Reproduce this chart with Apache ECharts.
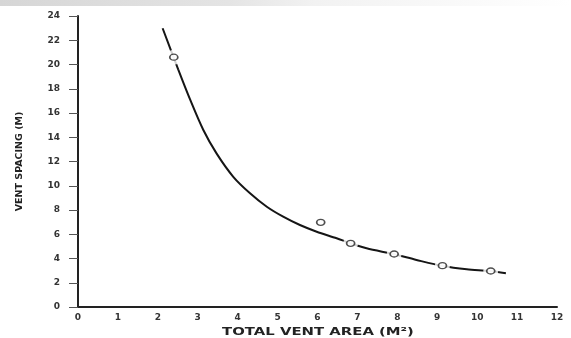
<!DOCTYPE html>
<html>
<head>
<meta charset="utf-8">
<script src="https://cdn.jsdelivr.net/npm/echarts@6/dist/echarts.min.js"></script>
<style>html,body{margin:0;padding:0;background:#fff}#c{width:571px;height:338px}</style>
</head>
<body>
<div id="c"></div>
<script>
// Smooth fitted curve
const curveX = [2.12, 2.51, 2.81, 3.14, 3.47, 3.89, 4.31, 4.73, 5.14, 5.56, 5.98, 6.48, 6.83, 7.23, 7.92, 8.48, 9.14, 9.74, 10.32, 10.72];
const curveY = [22.99, 19.6, 17.1, 14.6, 12.67, 10.74, 9.38, 8.27, 7.45, 6.76, 6.21, 5.67, 5.25, 4.84, 4.35, 3.88, 3.38, 3.11, 2.97, 2.78];
// Measured points (open circles)
const pointX = [2.40, 6.08, 6.83, 7.92, 9.13, 10.34];
const pointY = [20.6, 6.98, 5.25, 4.37, 3.41, 2.97];
const xTicks = [0, 1, 2, 3, 4, 5, 6, 7, 8, 9, 10, 11, 12];
const yTicks = [0, 2, 4, 6, 8, 10, 12, 14, 16, 18, 20, 22, 24];
const xTitle = 'TOTAL VENT AREA (M\u00B2)';
const yTitle = 'VENT SPACING (M)';

const chart = echarts.init(document.getElementById('c'), null, {renderer: 'canvas'});
const curve = curveX.map((x, i) => [x, curveY[i]]);
const pts = pointX.map((x, i) => [x, pointY[i]]);
const halo = pts.filter((p, i) => i !== 1);
const lblFont = {fontFamily: 'DejaVu Sans', fontWeight: 'bold', fontSize: 9, color: '#333'};

chart.setOption({
  animation: false,
  backgroundColor: '#fff',
  grid: {left: 78, right: 14, top: 16, bottom: 31, containLabel: false},
  xAxis: {
    type: 'value', min: xTicks[0], max: xTicks[xTicks.length - 1], interval: 1,
    axisLine: {show: true, onZero: false, lineStyle: {color: '#222', width: 2}},
    axisTick: {show: false},
    splitLine: {show: false},
    axisLabel: Object.assign({margin: 6}, lblFont)
  },
  yAxis: {
    type: 'value', min: yTicks[0], max: yTicks[yTicks.length - 1], interval: 2,
    name: yTitle, nameLocation: 'middle', nameGap: 53, nameRotate: 90,
    nameTextStyle: {fontFamily: 'DejaVu Sans', fontWeight: 'bold', fontSize: 9.5, color: '#222'},
    axisLine: {show: true, onZero: false, lineStyle: {color: '#222', width: 2}},
    axisTick: {show: true, length: 9, lineStyle: {color: '#555', width: 1}},
    splitLine: {show: false},
    axisLabel: Object.assign({margin: 18}, lblFont)
  },
  graphic: [
    {type: 'rect', left: 0, top: 0, z: -1, shape: {width: 571, height: 6},
     style: {fill: new echarts.graphic.LinearGradient(0, 0, 1, 0, [
       {offset: 0, color: '#d6d6d6'}, {offset: 0.4, color: '#e4e4e4'}, {offset: 0.55, color: '#f2f2f2'}, {offset: 1, color: '#ffffff'}])}},
    {type: 'text', x: 318, y: 332, scaleX: 1.35, originX: 0, originY: 0, z: 10,
     style: {text: xTitle, font: 'bold 11px "DejaVu Sans"', fill: '#222', align: 'center', verticalAlign: 'middle'}}
  ],
  series: [
    {type: 'line', data: curve, smooth: 0.3, showSymbol: false, symbol: 'none', silent: true,
     lineStyle: {color: '#151515', width: 2}, z: 2},
    {type: 'scatter', data: halo, symbol: 'circle', symbolSize: 15, silent: true,
     itemStyle: {color: '#fff', borderWidth: 0}, z: 3},
    {type: 'scatter', data: pts, symbol: 'circle', symbolSize: [8, 6], silent: true,
     itemStyle: {color: '#fff', borderColor: '#222', borderWidth: 1.5}, z: 4}
  ]
});
</script>
</body>
</html>
